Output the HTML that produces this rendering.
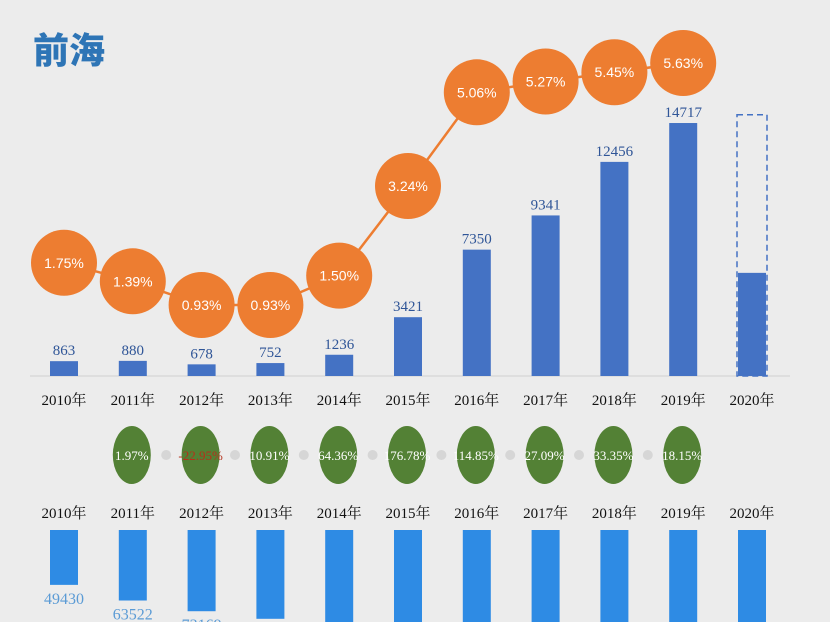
<!DOCTYPE html>
<html><head><meta charset="utf-8"><style>
html,body{margin:0;padding:0;background:#ececec;width:830px;height:622px;overflow:hidden}
svg{display:block}
.yr{font-family:"Liberation Serif","Noto Serif CJK SC",serif;font-size:15px;fill:#111;text-anchor:middle}
.val{font-family:"Liberation Serif",serif;font-size:15px;fill:#2f5597;text-anchor:middle}
.pct{font-family:"Liberation Sans",sans-serif;font-size:14px;fill:#fff;text-anchor:middle}
.gp{font-family:"Liberation Serif",serif;font-size:13px;fill:#fff;text-anchor:middle}
.bv{font-family:"Liberation Serif",serif;font-size:16px;fill:#5b9bd5;text-anchor:middle}
</style></head><body>
<svg id="c" width="830" height="622">
<text x="33" y="63" font-family="'Noto Sans CJK SC',sans-serif" font-weight="900" font-size="36" fill="#2e75b6">前海</text>
</svg>
<script>
const years=["2010年","2011年","2012年","2013年","2014年","2015年","2016年","2017年","2018年","2019年","2020年"];
const gdp=[863,880,678,752,1236,3421,7350,9341,12456,14717,6000];
const gdpLabels=["863","880","678","752","1236","3421","7350","9341","12456","14717",""];
const target2020=15200;
const share=[1.75,1.39,0.93,0.93,1.50,3.24,5.06,5.27,5.45,5.63];
const growth=[1.97,-22.95,10.91,64.36,176.78,114.85,27.09,33.35,18.15];
const other=[49430,63522,73169,80000,84000,86000,88000,90000,92000,94000,96000];
const otherLabels=["49430","63522","73169","","","","","","","",""];
const NS="http://www.w3.org/2000/svg",svg=document.getElementById('c');
function mk(t,a,txt){const e=document.createElementNS(NS,t);for(const k in a)e.setAttribute(k,a[k]);if(txt!==undefined)e.textContent=txt;svg.appendChild(e);return e;}
const X=i=>64+i*68.8;
const base=376,Yb=v=>base-v*0.01719;
const Yp=v=>305-(v-0.93)*51.5;
const Yo=v=>v*0.00111;
let ax=mk('line',{x1:30,x2:790,y1:base,y2:base,stroke:'#d0d0d0','stroke-width':1});


let d=mk('rect',{x:X(10)-15,y:Yb(target2020),width:30,height:base-Yb(target2020),fill:'none',stroke:'#4472c4','stroke-width':1.5,'stroke-dasharray':'6,4'});


gdp.forEach((v,i)=>{
 let r=mk('rect',{x:X(i)-14,y:Yb(v),width:28,height:base-Yb(v),fill:'#4472c4'});
 
 
 if(gdpLabels[i]){let t=mk('text',{x:X(i),y:Yb(v)-6,class:'val'},gdpLabels[i]);
 
 }
 let y=mk('text',{x:X(i),y:405,class:'yr'},years[i]);
 
 
 let y2=mk('text',{x:X(i),y:518,class:'yr'},years[i]);
 
 
 let b=mk('rect',{x:X(i)-14,y:530,width:28,height:Yo(other[i]),fill:'#2e8be4'});
 
 
 if(otherLabels[i]){let t=mk('text',{x:X(i),y:530+Yo(other[i])+19,class:'bv'},otherLabels[i]);
 
 }
});
let pts=share.map((v,i)=>X(i)+','+Yp(v)).join(' ');
let pl=mk('polyline',{points:pts,fill:'none',stroke:'#ed7d31','stroke-width':2.5});


share.forEach((v,i)=>{
 let c=mk('circle',{cx:X(i),cy:Yp(v),r:33,fill:'#ed7d31'});
 
 
 let t=mk('text',{x:X(i),y:Yp(v)+5,class:'pct'},v.toFixed(2)+'%');
 
 
});
growth.forEach((v,i)=>{
 const cx=X(i+1)-1;
 if(i<growth.length-1){let k=mk('circle',{cx:cx+34.4,cy:455,r:5,fill:'#d6d6d6'});
 
 }
 let e=mk('ellipse',{cx:cx,cy:455,rx:19,ry:29,fill:'#538135'});
 
 
 let t=mk('text',{x:cx,y:460,class:'gp'},v.toFixed(2)+'%');
 if(v<0)t.setAttribute('style','fill:#b5301a');
 
 
});
</script>
</body></html>
